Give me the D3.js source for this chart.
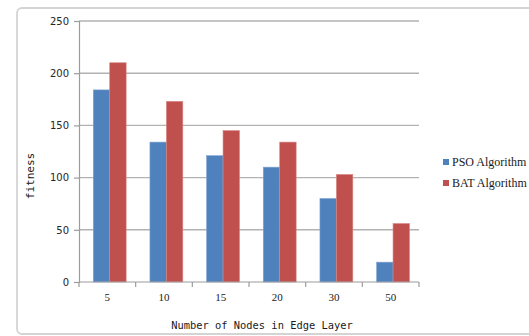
<!DOCTYPE html>
<html>
<head>
<meta charset="utf-8">
<script src="https://cdn.jsdelivr.net/npm/d3@7"></script>
<style>
  html, body { margin: 0; padding: 0; background: #fff; }
  svg { display: block; }
</style>
</head>
<body>
<svg id="chart" width="529" height="336"></svg>
<script>
// Node counts in the edge layer and fitness per algorithm
const categories = ["5", "10", "15", "20", "30", "50"];
const seriesNames = ["PSO Algorithm", "BAT Algorithm"];
const psoValues = [184, 134, 121, 110, 80, 19];
const batValues = [210, 173, 145, 134, 103, 56];
const yTicks = [0, 50, 100, 150, 200, 250];

const colors = ["#4f81bd", "#c0504d"];
const series = [psoValues, batValues];

const svg = d3.select("#chart");

// chart area frame (rounded, light grey)
svg.append("rect")
  .attr("x", 17).attr("y", 8)
  .attr("width", 600).attr("height", 326)
  .attr("rx", 5)
  .attr("fill", "none")
  .attr("stroke", "#d4d4d4")
  .attr("stroke-width", 1.8);

const plot = { left: 79, right: 419, top: 21, bottom: 282 };

// category slots along the x axis
const slot = d3.scaleBand()
  .domain(categories)
  .range([plot.left, plot.right]);

// bar groups inside each slot
const x = d3.scaleBand()
  .domain(categories)
  .range([plot.left, plot.right])
  .paddingInner(0.42)
  .paddingOuter(0.21)
  .align(0.6);

const xs = d3.scaleBand()
  .domain(d3.range(series.length))
  .range([0, x.bandwidth()]);

const y = d3.scaleLinear()
  .domain([0, 250])
  .range([plot.bottom, plot.top]);

// horizontal gridlines
svg.append("g")
  .selectAll("line")
  .data(yTicks.filter(t => t > 0))
  .join("line")
  .attr("x1", plot.left).attr("x2", plot.right)
  .attr("y1", d => y(d)).attr("y2", d => y(d))
  .attr("stroke", "#b2b2b2")
  .attr("stroke-width", 1.4);

// bars
const groups = svg.append("g")
  .selectAll("g")
  .data(categories)
  .join("g")
  .attr("transform", d => `translate(${x(d)},0)`);

groups.selectAll("rect")
  .data((d, i) => series.map((s, k) => ({ k, v: s[i] })))
  .join("rect")
  .attr("x", d => xs(d.k))
  .attr("width", xs.bandwidth())
  .attr("y", d => y(d.v))
  .attr("height", d => y(0) - y(d.v))
  .attr("fill", d => colors[d.k])
  .attr("stroke", d => d.k === 0 ? "#7fa3d0" : "#d98583")
  .attr("stroke-width", 0.6);

// y axis
const yAxis = d3.axisLeft(y)
  .tickValues(yTicks)
  .tickSize(5)
  .tickPadding(5);
const gy = svg.append("g")
  .attr("transform", `translate(${plot.left},0)`)
  .call(yAxis);
gy.select(".domain").attr("stroke", "#9c9c9c").attr("stroke-width", 1.2);
gy.selectAll(".tick line").attr("stroke", "#9c9c9c").attr("stroke-width", 1.2);
gy.selectAll(".tick text")
  .attr("font-family", "'DejaVu Sans', Verdana, sans-serif")
  .attr("font-size", 10)
  .attr("fill", "#262626");

// x axis: baseline with ticks at category boundaries
svg.append("line")
  .attr("x1", plot.left).attr("x2", plot.right)
  .attr("y1", plot.bottom).attr("y2", plot.bottom)
  .attr("stroke", "#9c9c9c").attr("stroke-width", 1.2);

const boundaries = categories.map(c => slot(c)).concat([plot.right]);
svg.append("g")
  .selectAll("line")
  .data(boundaries)
  .join("line")
  .attr("x1", d => d).attr("x2", d => d)
  .attr("y1", plot.bottom).attr("y2", plot.bottom + 5)
  .attr("stroke", "#9c9c9c").attr("stroke-width", 1.2);

svg.append("g")
  .selectAll("text")
  .data(categories)
  .join("text")
  .attr("x", d => slot(d) + slot.bandwidth() / 2)
  .attr("y", 301)
  .attr("text-anchor", "middle")
  .attr("font-family", "'Liberation Serif', 'Times New Roman', serif")
  .attr("font-size", 11)
  .attr("fill", "#1a1a1a")
  .text(d => d);

// axis titles
svg.append("text")
  .attr("x", 262)
  .attr("y", 329)
  .attr("text-anchor", "middle")
  .attr("font-family", "'DejaVu Sans Mono', 'Liberation Mono', monospace")
  .attr("font-size", 10.4)
  .attr("fill", "#1a1a1a")
  .text("Number of Nodes in Edge Layer");

svg.append("text")
  .attr("transform", "translate(34,176) rotate(-90)")
  .attr("text-anchor", "middle")
  .attr("font-family", "'DejaVu Sans Mono', 'Liberation Mono', monospace")
  .attr("font-size", 11)
  .attr("fill", "#1a1a1a")
  .text("fitness");

// legend
const legend = svg.append("g")
  .selectAll("g")
  .data(seriesNames)
  .join("g")
  .attr("transform", (d, i) => `translate(443,${162 + i * 21})`);

legend.append("rect")
  .attr("x", 0).attr("y", -3)
  .attr("width", 6).attr("height", 6)
  .attr("fill", (d, i) => colors[i]);

legend.append("text")
  .attr("x", 9)
  .attr("y", 4)
  .attr("font-family", "'Liberation Serif', 'Times New Roman', serif")
  .attr("font-size", 12)
  .attr("fill", "#1a1a1a")
  .text(d => d);
</script>
</body>
</html>
